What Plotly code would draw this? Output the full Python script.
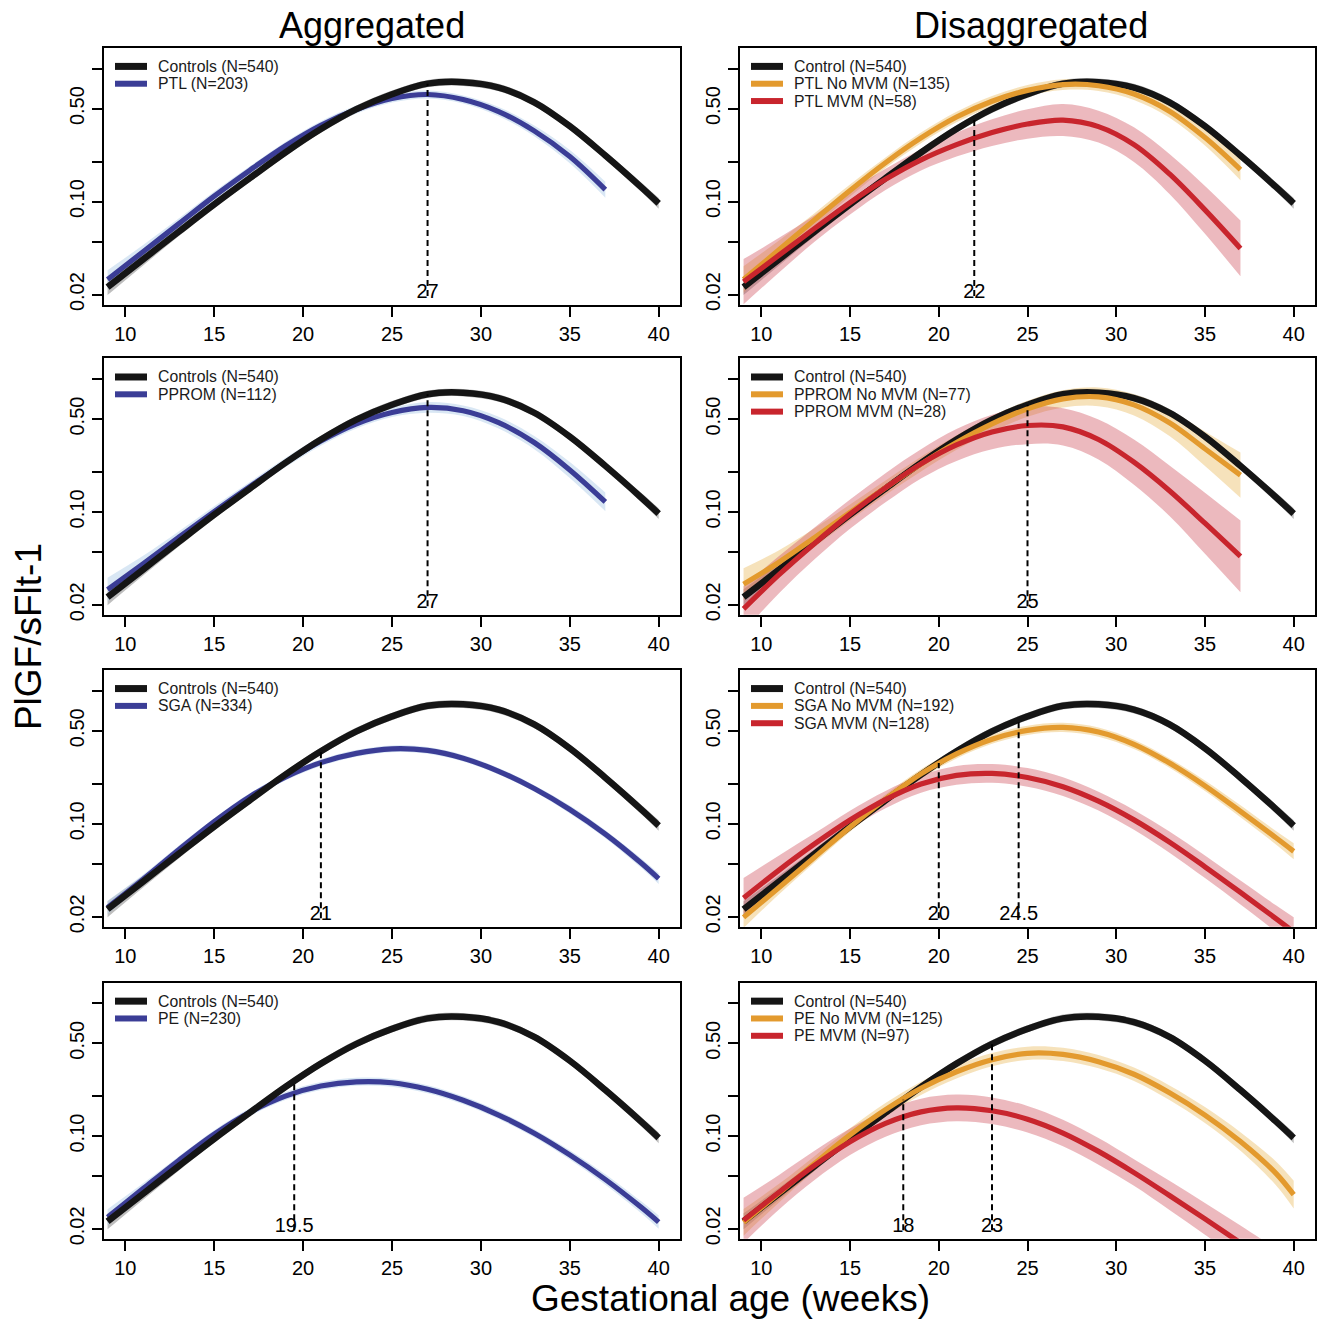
import numpy as np
import plotly.graph_objects as go

W, H = 1324, 1326
OFF = 0  # page body margin is removed (see write_html below)

# ---------------- data ----------------
weeks_full = [9, 11, 13, 15, 17, 19, 21, 23, 25, 27, 29, 31, 33, 35, 37, 39, 40]
weeks_short = [9, 11, 13, 15, 17, 19, 21, 23, 25, 27, 29, 31, 33, 35, 37]

# PlGF/sFlt-1 ratio; *_ci = half width of the confidence band (log10 units)
control = [0.0228, 0.0368, 0.0594, 0.0953, 0.150, 0.234, 0.351, 0.495, 0.641, 0.770, 0.790,
           0.720, 0.558, 0.369, 0.222, 0.129, 0.097]
control_ci = [0.06, 0.045, 0.035, 0.03, 0.028, 0.028, 0.028, 0.028, 0.028, 0.028, 0.028,
              0.028, 0.028, 0.028, 0.03, 0.035, 0.04]

ptl = [0.026, 0.042, 0.068, 0.110, 0.172, 0.262, 0.375, 0.492, 0.595, 0.638, 0.585, 0.475,
       0.340, 0.218, 0.123]
ptl_ci = [0.07, 0.05, 0.04, 0.035, 0.03, 0.03, 0.03, 0.03, 0.03, 0.03, 0.03, 0.035, 0.04,
          0.05, 0.06]
ptl_nomvm = [0.0260, 0.0434, 0.0729, 0.1213, 0.196, 0.301, 0.432, 0.568, 0.685, 0.757, 0.743,
             0.643, 0.478, 0.303, 0.174]
ptl_nomvm_ci = [0.10, 0.07, 0.05, 0.045, 0.04, 0.04, 0.04, 0.04, 0.04, 0.04, 0.04, 0.045,
                0.05, 0.06, 0.08]
ptl_mvm = [0.0250, 0.0396, 0.0628, 0.0984, 0.147, 0.206, 0.268, 0.330, 0.383, 0.410, 0.366,
           0.268, 0.1614, 0.0867, 0.0445]
ptl_mvm_ci = [0.17, 0.13, 0.10, 0.09, 0.08, 0.08, 0.09, 0.10, 0.11, 0.12, 0.12, 0.13, 0.15,
              0.18, 0.21]

pprom = [0.026, 0.0407, 0.0643, 0.1007, 0.155, 0.235, 0.342, 0.461, 0.561, 0.612, 0.578,
         0.470, 0.333, 0.207, 0.119]
pprom_ci = [0.09, 0.06, 0.045, 0.04, 0.035, 0.035, 0.035, 0.035, 0.035, 0.04, 0.04, 0.045,
            0.05, 0.06, 0.07]
pprom_nomvm = [0.0286, 0.0418, 0.0640, 0.0991, 0.152, 0.229, 0.333, 0.460, 0.597, 0.710,
               0.735, 0.640, 0.469, 0.299, 0.189]
pprom_nomvm_ci = [0.12, 0.09, 0.07, 0.06, 0.055, 0.055, 0.055, 0.06, 0.06, 0.065, 0.07,
                  0.08, 0.10, 0.13, 0.17]
pprom_mvm = [0.0186, 0.0337, 0.0579, 0.0962, 0.152, 0.230, 0.319, 0.400, 0.447, 0.437, 0.351,
             0.237, 0.1445, 0.0822, 0.0462]
pprom_mvm_ci = [0.17, 0.14, 0.12, 0.11, 0.11, 0.11, 0.12, 0.13, 0.14, 0.14, 0.15, 0.17,
                0.19, 0.23, 0.27]

sga = [0.0235, 0.0383, 0.0638, 0.104, 0.160, 0.224, 0.288, 0.338, 0.366, 0.356, 0.311, 0.248,
       0.184, 0.128, 0.0836, 0.0509, 0.0387]
sga_ci = [0.05, 0.035, 0.03, 0.025, 0.025, 0.025, 0.025, 0.025, 0.025, 0.025, 0.025, 0.025,
          0.025, 0.03, 0.03, 0.035, 0.04]
sga_nomvm = [0.0198, 0.0332, 0.0561, 0.0944, 0.153, 0.237, 0.335, 0.432, 0.504, 0.530, 0.489,
             0.395, 0.286, 0.193, 0.124, 0.0785, 0.0621]
sga_nomvm_ci = [0.08, 0.05, 0.04, 0.035, 0.035, 0.035, 0.035, 0.035, 0.035, 0.035, 0.035,
                0.035, 0.035, 0.04, 0.045, 0.05, 0.06]
sga_mvm = [0.0277, 0.0449, 0.0705, 0.1067, 0.152, 0.199, 0.231, 0.239, 0.223, 0.190, 0.148,
           0.107, 0.0728, 0.0475, 0.0305, 0.0194, 0.0154]
sga_mvm_ci = [0.15, 0.11, 0.08, 0.07, 0.065, 0.065, 0.07, 0.07, 0.07, 0.07, 0.07, 0.075,
              0.08, 0.085, 0.09, 0.10, 0.11]

pe = [0.0245, 0.0402, 0.0655, 0.1033, 0.151, 0.200, 0.238, 0.256, 0.252, 0.225, 0.186, 0.144,
      0.105, 0.0721, 0.0471, 0.0292, 0.0225]
pe_ci = [0.06, 0.04, 0.03, 0.03, 0.03, 0.03, 0.03, 0.03, 0.03, 0.03, 0.03, 0.03, 0.03, 0.035,
         0.04, 0.045, 0.05]
pe_nomvm = [0.0224, 0.0372, 0.0622, 0.102, 0.158, 0.229, 0.305, 0.376, 0.420, 0.412, 0.363,
            0.292, 0.212, 0.144, 0.091, 0.0524, 0.0362]
pe_nomvm_ci = [0.10, 0.07, 0.055, 0.05, 0.05, 0.05, 0.05, 0.05, 0.05, 0.05, 0.05, 0.05,
               0.055, 0.06, 0.07, 0.09, 0.105]
pe_mvm = [0.0232, 0.0378, 0.0601, 0.0906, 0.1245, 0.152, 0.163, 0.155, 0.134, 0.1054, 0.0767,
          0.0531, 0.0357, 0.0238, 0.0157, 0.0103, 0.0083]
pe_mvm_ci = [0.17, 0.13, 0.11, 0.10, 0.10, 0.10, 0.10, 0.10, 0.10, 0.10, 0.10, 0.10, 0.11,
             0.12, 0.13, 0.14, 0.15]

# weeks at which the curves start to diverge (dashed markers)
div_ptl = [27]
div_ptl_mvm = [22]
div_pprom = [27]
div_pprom_mvm = [25]
div_sga = [21]
div_sga_mvm = [20, 24.5]
div_pe = [19.5]
div_pe_mvm = [18, 23]

x_ticks = [10, 15, 20, 25, 30, 35, 40]
y_ticks = [0.02, 0.05, 0.10, 0.20, 0.50, 1.0]
y_ticktext = ["0.02", "", "0.10", "", "0.50", ""]

col_titles = ["Aggregated", "Disaggregated"]
y_title = "PlGF/sFlt-1"
x_title = "Gestational age (weeks)"

# ---------------- styles ----------------
FONT = "Liberation Sans, Arial, Helvetica, sans-serif"
BLACK = "#151515"
BLUE = "#3b3d96"
ORANGE = "#e39a2e"
RED = "#c8252d"
BAND = {
    BLACK: "rgba(110,110,110,0.45)",
    BLUE: "rgba(185,212,235,0.55)",
    ORANGE: "rgba(236,190,105,0.45)",
    RED: "rgba(205,70,85,0.38)",
}
LW = {BLACK: 6.5, BLUE: 5.2, ORANGE: 5.2, RED: 5.2}

col_px = [(104, 680), (740, 1315)]
row_px = [(48, 306), (360, 617.5), (673, 931), (987, 1244.5)]

panels = [
    dict(ctrl="Controls (N=540)", groups=[("PTL (N=203)", BLUE, weeks_short, ptl, ptl_ci)],
         div=div_ptl),
    dict(ctrl="Control (N=540)", groups=[
        ("PTL No MVM (N=135)", ORANGE, weeks_short, ptl_nomvm, ptl_nomvm_ci),
        ("PTL MVM (N=58)", RED, weeks_short, ptl_mvm, ptl_mvm_ci)], div=div_ptl_mvm),
    dict(ctrl="Controls (N=540)", groups=[("PPROM (N=112)", BLUE, weeks_short, pprom, pprom_ci)],
         div=div_pprom),
    dict(ctrl="Control (N=540)", groups=[
        ("PPROM No MVM (N=77)", ORANGE, weeks_short, pprom_nomvm, pprom_nomvm_ci),
        ("PPROM MVM (N=28)", RED, weeks_short, pprom_mvm, pprom_mvm_ci)], div=div_pprom_mvm),
    dict(ctrl="Controls (N=540)", groups=[("SGA (N=334)", BLUE, weeks_full, sga, sga_ci)],
         div=div_sga),
    dict(ctrl="Control (N=540)", groups=[
        ("SGA No MVM (N=192)", ORANGE, weeks_full, sga_nomvm, sga_nomvm_ci),
        ("SGA MVM (N=128)", RED, weeks_full, sga_mvm, sga_mvm_ci)], div=div_sga_mvm),
    dict(ctrl="Controls (N=540)", groups=[("PE (N=230)", BLUE, weeks_full, pe, pe_ci)],
         div=div_pe),
    dict(ctrl="Control (N=540)", groups=[
        ("PE No MVM (N=125)", ORANGE, weeks_full, pe_nomvm, pe_nomvm_ci),
        ("PE MVM (N=97)", RED, weeks_full, pe_mvm, pe_mvm_ci)], div=div_pe_mvm),
]

fig = go.Figure()
layout = dict(width=W, height=H, margin=dict(l=0, r=0, t=0, b=0),
              paper_bgcolor="white", plot_bgcolor="white", showlegend=False,
              font=dict(family=FONT, color="black"))
annotations = []
shapes = []


def px_x(p):
    return (p - OFF) / W


def px_y(p):
    return 1 - (p - OFF) / H


def add_band(x, v, ci, color, xa, ya):
    v = np.asarray(v, float)
    ci = np.asarray(ci, float)
    fig.add_trace(go.Scatter(x=x, y=v / 10 ** ci, mode="lines",
                             line=dict(width=0, color=BAND[color], shape="spline"),
                             hoverinfo="skip", xaxis=xa, yaxis=ya))
    fig.add_trace(go.Scatter(x=x, y=v * 10 ** ci, mode="lines", fill="tonexty",
                             fillcolor=BAND[color],
                             line=dict(width=0, color=BAND[color], shape="spline"),
                             hoverinfo="skip", xaxis=xa, yaxis=ya))


def add_line(x, v, color, name, xa, ya):
    fig.add_trace(go.Scatter(x=x, y=v, mode="lines", name=name,
                             line=dict(color=color, width=LW[color], shape="spline"),
                             xaxis=xa, yaxis=ya))


log_ctrl = np.log10(control)

for i, p in enumerate(panels):
    r, c = divmod(i, 2)
    xa = "x" if i == 0 else f"x{i+1}"
    ya = "y" if i == 0 else f"y{i+1}"
    agg = (c == 0)
    add_band(weeks_full, control, control_ci, BLACK, xa, ya)
    for name, colr, wx, vals, ci in p["groups"]:
        add_band(wx, vals, ci, colr, xa, ya)
    if agg:
        for name, colr, wx, vals, ci in p["groups"]:
            add_line(wx, vals, colr, name, xa, ya)
        add_line(weeks_full, control, BLACK, p["ctrl"], xa, ya)
    else:
        add_line(weeks_full, control, BLACK, p["ctrl"], xa, ya)
        for name, colr, wx, vals, ci in p["groups"]:
            add_line(wx, vals, colr, name, xa, ya)
    # divergence markers
    for d in p["div"]:
        top = 10 ** np.interp(d, weeks_full, log_ctrl)
        fig.add_trace(go.Scatter(x=[d, d], y=[0.0195, top], mode="lines",
                                 line=dict(color="black", width=2, dash="6px,4px"),
                                 hoverinfo="skip", xaxis=xa, yaxis=ya))
        fig.add_trace(go.Scatter(x=[d], y=[0.0205], mode="text", text=[f"{d:g}"],
                                 textposition="middle center",
                                 textfont=dict(size=20, color="black", family=FONT),
                                 hoverinfo="skip", xaxis=xa, yaxis=ya))

    x0, x1 = col_px[c]
    y0, y1 = row_px[r]
    axis_common = dict(showline=True, linewidth=2, linecolor="black", mirror=True,
                       ticks="outside", ticklen=10, tickwidth=2, tickcolor="black",
                       showgrid=False, zeroline=False,
                       tickfont=dict(size=20, family=FONT, color="black"))
    layout["xaxis" if i == 0 else f"xaxis{i+1}"] = dict(
        domain=[px_x(x0), px_x(x1)], range=[8.8, 41.2], tickvals=x_ticks,
        anchor=ya, **axis_common)
    layout["yaxis" if i == 0 else f"yaxis{i+1}"] = dict(
        domain=[px_y(y1), px_y(y0)], type="log", range=[-1.774, 0.156],
        tickvals=y_ticks, ticktext=y_ticktext, tickangle=-90,
        anchor=xa, **axis_common)

    # legend in the top-left corner of each panel
    entries = [(p["ctrl"], BLACK)] + [(g[0], g[1]) for g in p["groups"]]
    for j, (name, colr) in enumerate(entries):
        yy = y0 + 18.7 + 17.4 * j
        shapes.append(dict(type="line", xref="paper", yref="paper",
                           x0=px_x(x0 + 11), x1=px_x(x0 + 43), y0=px_y(yy), y1=px_y(yy),
                           line=dict(color=colr, width=7 if colr == BLACK else 6)))
        annotations.append(dict(text=name, xref="paper", yref="paper",
                                x=px_x(x0 + 52), y=px_y(yy), xanchor="left",
                                yanchor="middle", showarrow=False,
                                font=dict(size=15.8, family=FONT, color="#1a1a1a")))

for t, cx in zip(col_titles, [372, 1031]):
    annotations.append(dict(text=t, xref="paper", yref="paper", x=px_x(cx), y=px_y(26),
                            xanchor="center", yanchor="middle", showarrow=False,
                            font=dict(size=36, family=FONT, color="black")))
annotations.append(dict(text=y_title, xref="paper", yref="paper", x=px_x(28), y=px_y(640),
                        xanchor="center", yanchor="middle", textangle=-90, showarrow=False,
                        font=dict(size=37, family=FONT, color="black")))
annotations.append(dict(text=x_title, xref="paper", yref="paper", x=px_x(730),
                        y=px_y(1304.5), xanchor="center", yanchor="middle", showarrow=False,
                        font=dict(size=37, family=FONT, color="black")))

layout["annotations"] = annotations
layout["shapes"] = shapes
fig.update_layout(**layout)
fig.write_html("out.html", config={"displayModeBar": False},
               post_script="document.body.style.margin='0';"
                           "document.documentElement.style.overflow='hidden';")
